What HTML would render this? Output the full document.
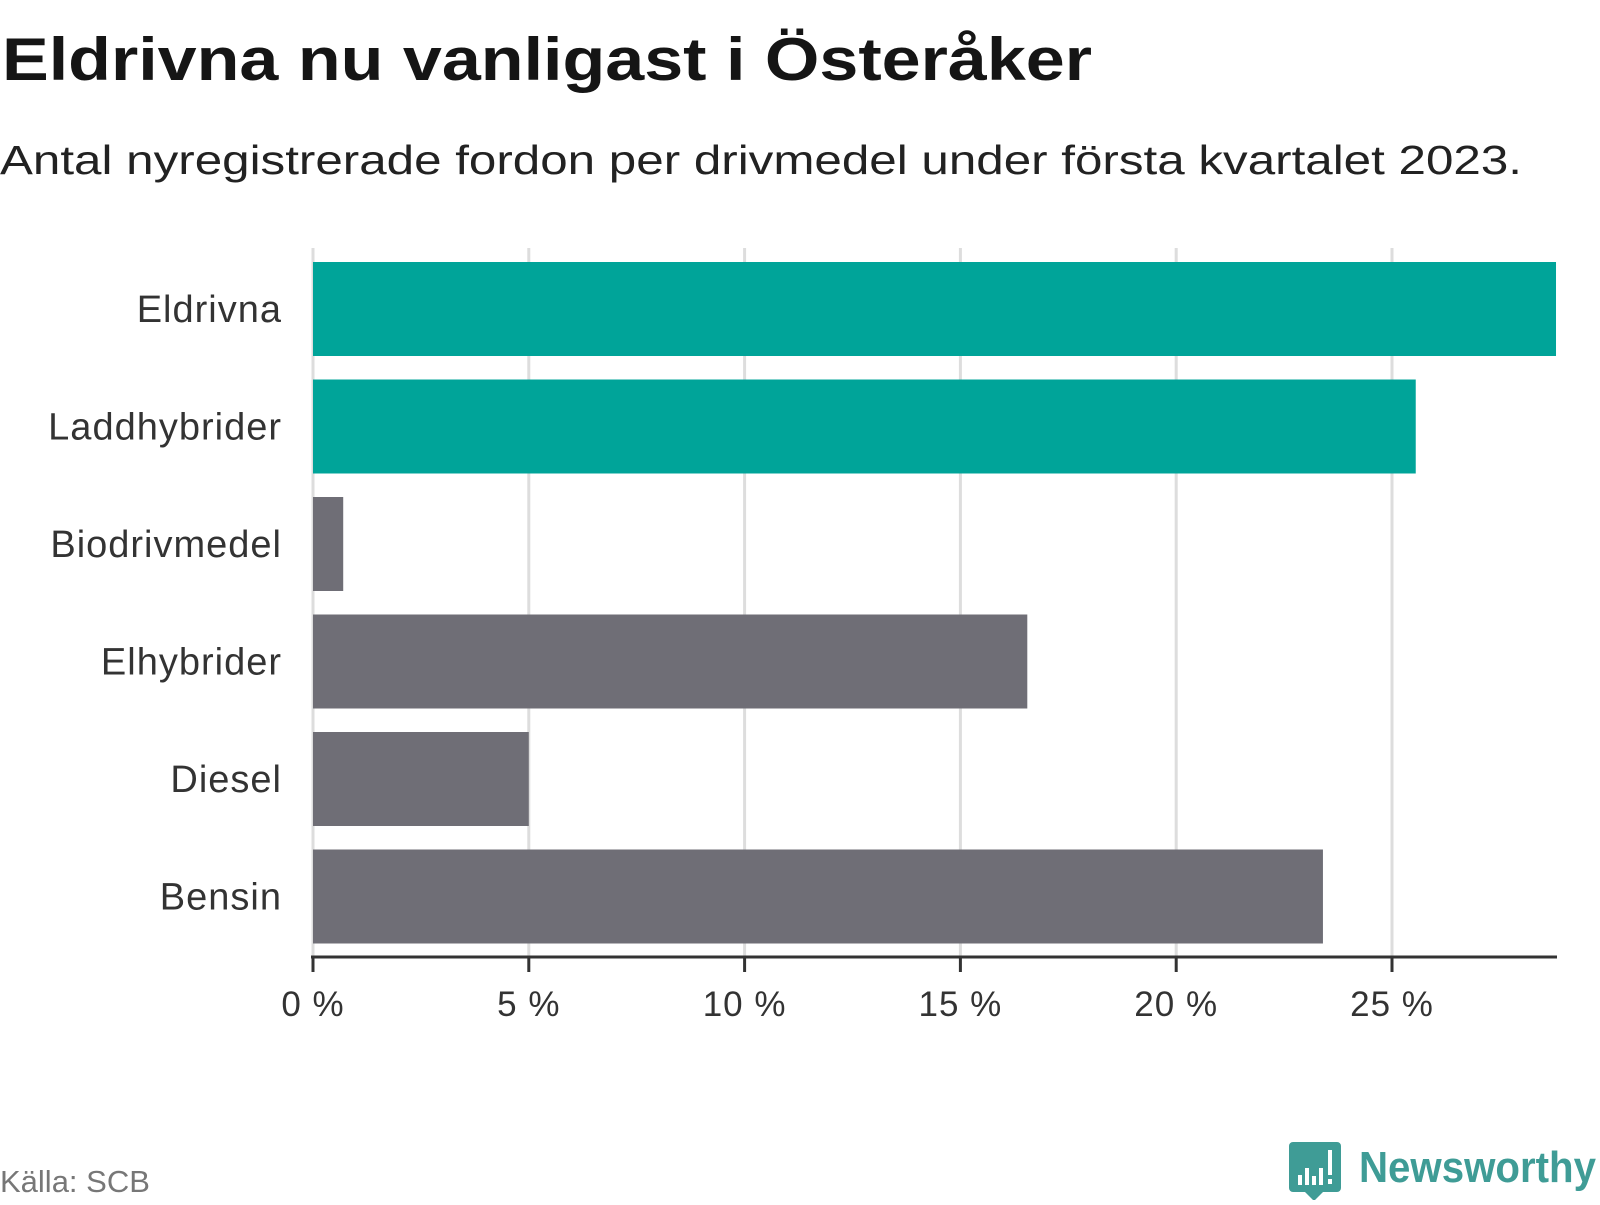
<!DOCTYPE html>
<html><head><meta charset="utf-8"><style>
body{margin:0;width:1600px;height:1200px;background:#fff;overflow:hidden;font-family:"Liberation Sans",sans-serif}
</style></head><body>
<svg width="1600" height="1200" xmlns="http://www.w3.org/2000/svg">
<text x="2" y="80" font-size="60" font-weight="bold" fill="#151515" textLength="1090" lengthAdjust="spacingAndGlyphs">Eldrivna nu vanligast i Österåker</text>
<text x="0" y="174" font-size="41" fill="#222" textLength="1522" lengthAdjust="spacingAndGlyphs">Antal nyregistrerade fordon per drivmedel under första kvartalet 2023.</text>
<g id="grid"></g><g id="bars"></g><g id="axis"></g>
<text x="0" y="1192" font-size="31" fill="#777">Källa: SCB</text>
<g>
<path d="M1293 1142h44a4 4 0 0 1 4 4v42a4 4 0 0 1-4 4h-14l-9 9-9-9h-12a4 4 0 0 1-4-4v-42a4 4 0 0 1 4-4z" fill="#3f9c96"/>
<rect x="1298" y="1175" width="4" height="10" fill="#fff"/><rect x="1305" y="1168" width="4" height="17" fill="#fff"/><rect x="1312" y="1176" width="4" height="9" fill="#fff"/><rect x="1319" y="1168" width="4" height="17" fill="#fff"/><rect x="1328" y="1150" width="4" height="25" fill="#fff"/><rect x="1328" y="1179" width="4" height="5" fill="#fff"/>
<text x="1359" y="1182" font-size="44" font-weight="bold" fill="#3f9c96" textLength="237" lengthAdjust="spacingAndGlyphs">Newsworthy</text>
</g>
</svg>
<script>
const categories=["Eldrivna","Laddhybrider","Biodrivmedel","Elhybrider","Diesel","Bensin"];
const values=[28.8,25.55,0.7,16.55,5.0,23.4];
const colors=["#00a499","#00a499","#6f6e76","#6f6e76","#6f6e76","#6f6e76"];
const ticks=[0,5,10,15,20,25];
const tickLabels=["0 %","5 %","10 %","15 %","20 %","25 %"];
const NS="http://www.w3.org/2000/svg";
const x0=313,pxPer=43.16,top0=262,step=117.5,bh=94,axisY=957,xEnd=1557;
const X=v=>x0+v*pxPer;
function mk(t,a,p){const e=document.createElementNS(NS,t);for(const k in a)e.setAttribute(k,a[k]);p.appendChild(e);return e;}
const g=document.getElementById('grid'),b=document.getElementById('bars'),ax=document.getElementById('axis');
ticks.forEach((t,i)=>{
 const l=mk('line',{x1:X(t),x2:X(t),y1:248,y2:axisY,stroke:'#ddd','stroke-width':3},g);
 
 
 const tk=mk('line',{x1:X(t),x2:X(t),y1:axisY,y2:972,stroke:'#333','stroke-width':3},ax);
 
 
 const tx=mk('text',{x:X(t),y:1016,'font-size':35,fill:'#333','text-anchor':'middle','letter-spacing':1},ax);
 tx.textContent=tickLabels[i];
 
 
});
const al=mk('line',{x1:x0-2,x2:xEnd,y1:axisY,y2:axisY,stroke:'#333','stroke-width':3},ax);


categories.forEach((c,i)=>{
 const y=top0+i*step;
 const r=mk('rect',{x:x0,y:y,width:X(values[i])-x0,height:bh,fill:colors[i]},b);
 
 
 const t=mk('text',{x:282,y:y+bh/2+13,'font-size':38,fill:'#333','text-anchor':'end','letter-spacing':1},b);
 t.textContent=c;
 
 
});
</script>
</body></html>
